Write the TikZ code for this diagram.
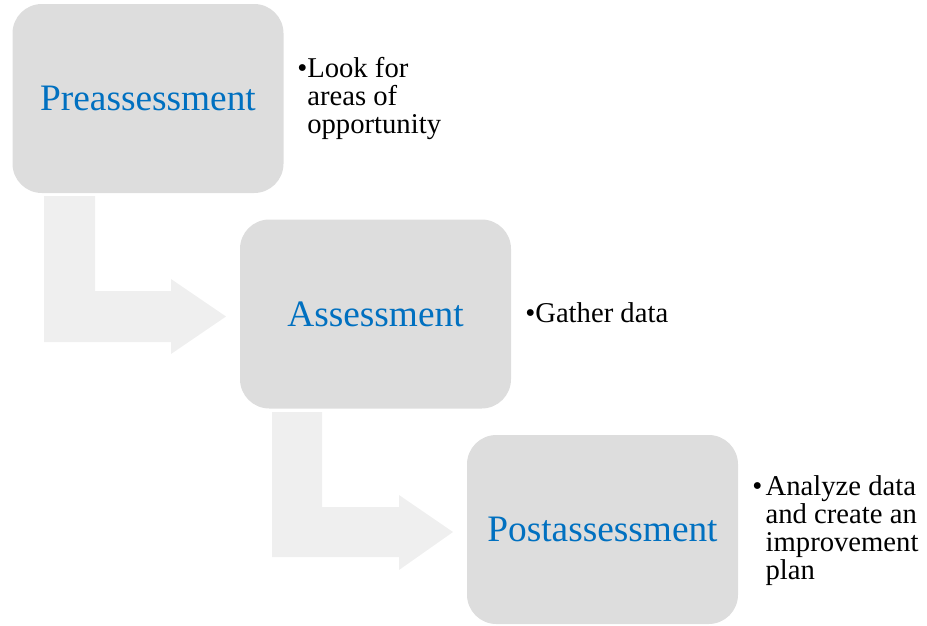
\documentclass[tikz,border=0pt]{standalone}
\usepackage{fontspec}
\setmainfont{Liberation Serif}
\definecolor{boxgray}{HTML}{DDDDDD}
\definecolor{arrgray}{HTML}{EFEFEF}
\definecolor{lblue}{HTML}{0070C0}
\newcommand{\bulletblock}[2]{\fontsize{21.5pt}{21pt}\selectfont\begin{tabular}[t]{@{}l@{\hspace{#1}}l@{}}#2\end{tabular}}
\begin{document}
\begin{tikzpicture}[x=0.75pt,y=-0.75pt,
  stagebox/.style={fill=boxgray, rounded corners=22pt, minimum width=203.25pt,
    minimum height=141.75pt, inner sep=0pt, text=lblue, font=\fontsize{28pt}{30pt}\selectfont},
  bentarrow/.style={fill=arrgray, draw=none},
  desc/.style={anchor=base west, inner sep=0pt, text=black}]
\useasboundingbox (0,0) rectangle (927,625);
% bent arrows
\fill[bentarrow] (44,196) -- (95,196) -- (95,291) -- (171,291) -- (171,279) -- (226,316.5)
  -- (171,354) -- (171,342) -- (44,342) -- cycle;
\fill[bentarrow] (272,412) -- (322,412) -- (322,507) -- (399,507) -- (399,495) -- (453,532)
  -- (399,570) -- (399,557) -- (272,557) -- cycle;
% stage boxes
\node[stagebox] (pre) at (148,98.5) {Preassessment};
\node[stagebox] (ass) at (375.5,314) {Assessment};
\node[stagebox] (post) at (602.5,529.5) {Postassessment};
% descriptions
\node[desc] (d1) at (297,77) {\bulletblock{0pt}{\textbullet & Look for\\ & areas of\\ & opportunity}};
\node[desc] (d2) at (525,322) {\bulletblock{0pt}{\textbullet & Gather data}};
\node[desc] (d3) at (752,495) {\bulletblock{2.5pt}{\textbullet & Analyze data\\ & and create an\\ & improvement\\ & plan}};
\end{tikzpicture}
\end{document}
